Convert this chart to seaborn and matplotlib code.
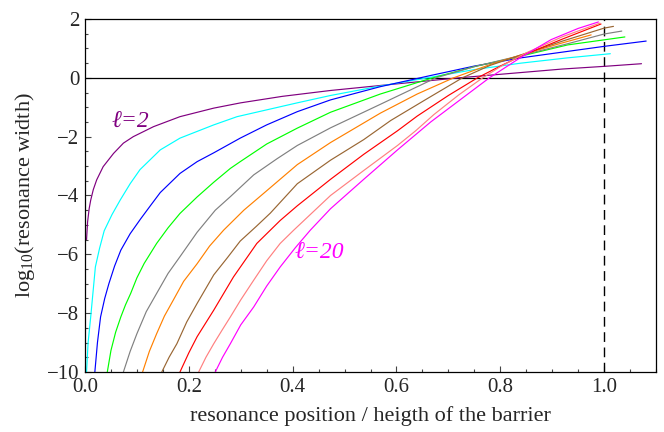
import pandas as pd
import matplotlib
matplotlib.use("Agg")
import matplotlib.pyplot as plt
from matplotlib.ticker import MultipleLocator
import seaborn as sns

# resonance position / barrier height (x) and log10(width) (y), one pair per l
x_l2 = [0.003, 0.005, 0.008, 0.011, 0.016, 0.0225, 0.035, 0.055, 0.074, 0.093, 0.132, 0.183,
        0.248, 0.30, 0.38, 0.473, 0.569, 0.65, 0.72, 0.84, 0.92, 1.0, 1.072]
y_l2 = [-5.5, -4.9, -4.45, -4.16, -3.8, -3.47, -3.02, -2.57, -2.22, -2.0, -1.66, -1.32,
        -1.03, -0.85, -0.63, -0.43, -0.26, -0.12, 0.0, 0.18, 0.3, 0.39, 0.48]

x_l4 = [0.003, 0.006, 0.011, 0.02, 0.028, 0.037, 0.052, 0.068, 0.087, 0.106, 0.145, 0.183,
        0.248, 0.293, 0.409, 0.473, 0.569, 0.666, 0.75, 0.84, 0.93, 1.012]
y_l4 = [-10.0, -9.0, -8.13, -6.43, -5.8, -5.2, -4.65, -4.15, -3.6, -3.12, -2.45, -2.05,
        -1.6, -1.32, -0.85, -0.6, -0.28, 0.02, 0.28, 0.5, 0.68, 0.82]

x_l6 = [0.019, 0.024, 0.03, 0.038, 0.046, 0.057, 0.069, 0.087, 0.107, 0.128, 0.145, 0.183,
        0.216, 0.248, 0.299, 0.35, 0.409, 0.473, 0.569, 0.666, 0.75, 0.84, 1.0, 1.081]
y_l6 = [-10.0, -9.0, -8.13, -7.5, -7.0, -6.4, -5.86, -5.3, -4.8, -4.3, -3.9, -3.25,
        -2.85, -2.55, -2.05, -1.6, -1.15, -0.75, -0.3, 0.08, 0.4, 0.68, 1.07, 1.25]

x_l8 = [0.043, 0.05, 0.059, 0.069, 0.078, 0.088, 0.1, 0.114, 0.138, 0.16, 0.183, 0.216,
        0.248, 0.28, 0.299, 0.35, 0.409, 0.473, 0.569, 0.666, 0.75, 0.84, 0.93, 1.04]
y_l8 = [-10.0, -9.27, -8.65, -8.13, -7.72, -7.33, -6.8, -6.31, -5.63, -5.1, -4.61, -4.05,
        -3.55, -3.08, -2.85, -2.25, -1.71, -1.17, -0.55, -0.02, 0.38, 0.74, 1.12, 1.39]

x_l10 = [0.074, 0.087, 0.1, 0.118, 0.138, 0.16, 0.183, 0.216, 0.251, 0.28, 0.325, 0.37,
         0.409, 0.473, 0.569, 0.676, 0.75, 0.84, 0.93, 1.0, 1.034]
y_l10 = [-10.0, -9.3, -8.7, -7.95, -7.33, -6.65, -6.08, -5.25, -4.5, -4.04, -3.3, -2.75,
         -2.3, -1.7, -0.9, 0.0, 0.38, 0.76, 1.16, 1.49, 1.59]

x_l12 = [0.111, 0.124, 0.138, 0.153, 0.17, 0.19, 0.216, 0.24, 0.267, 0.306, 0.344, 0.409,
         0.473, 0.569, 0.64, 0.71, 0.78, 0.84, 0.91, 0.975]
y_l12 = [-10.0, -9.3, -8.7, -8.1, -7.56, -6.92, -6.32, -5.72, -5.18, -4.5, -3.93, -2.95,
         -2.2, -1.2, -0.55, 0.0, 0.45, 0.78, 1.14, 1.46]

x_l14 = [0.148, 0.162, 0.177, 0.196, 0.216, 0.248, 0.275, 0.299, 0.33, 0.357, 0.409, 0.473,
         0.537, 0.589, 0.66, 0.727, 0.78, 0.84, 0.92, 1.0, 1.018]
y_l14 = [-10.0, -9.5, -9.04, -8.3, -7.67, -6.7, -6.1, -5.55, -5.05, -4.6, -3.6, -2.8,
         -2.1, -1.45, -0.7, 0.0, 0.42, 0.78, 1.25, 1.69, 1.75]

x_l16 = [0.183, 0.2, 0.216, 0.232, 0.248, 0.286, 0.331, 0.376, 0.409, 0.473, 0.537, 0.602,
         0.64, 0.7, 0.756, 0.8, 0.84, 0.92, 0.994]
y_l16 = [-10.0, -9.35, -8.8, -8.35, -7.9, -6.77, -5.63, -4.85, -4.35, -3.45, -2.6, -1.8,
         -1.3, -0.6, 0.0, 0.4, 0.74, 1.32, 1.83]

x_l18 = [0.219, 0.233, 0.248, 0.264, 0.28, 0.3, 0.325, 0.35, 0.376, 0.402, 0.473, 0.537,
         0.602, 0.637, 0.672, 0.72, 0.766, 0.801, 0.85, 0.92, 0.992]
y_l18 = [-10.0, -9.5, -9.04, -8.58, -8.13, -7.55, -6.88, -6.22, -5.63, -5.18, -4.0, -3.15,
         -2.3, -1.8, -1.25, -0.58, 0.0, 0.39, 0.85, 1.4, 1.86]

x_l20 = [0.251, 0.265, 0.28, 0.3, 0.325, 0.35, 0.376, 0.405, 0.434, 0.473, 0.537, 0.602,
         0.666, 0.73, 0.779, 0.84, 0.898, 0.95, 0.989]
y_l20 = [-10.0, -9.5, -9.04, -8.4, -7.79, -7.08, -6.43, -5.78, -5.18, -4.45, -3.45, -2.45,
         -1.5, -0.65, 0.0, 0.7, 1.3, 1.68, 1.9]

ells = [2, 4, 6, 8, 10, 12, 14, 16, 18, 20]
xs = [x_l2, x_l4, x_l6, x_l8, x_l10, x_l12, x_l14, x_l16, x_l18, x_l20]
ys = [y_l2, y_l4, y_l6, y_l8, y_l10, y_l12, y_l14, y_l16, y_l18, y_l20]
colors = ["#800080", "#00ffff", "#0000ff", "#00ff00", "#808080",
          "#ff8000", "#996633", "#ff0000", "#ff8080", "#ff00ff"]

df = pd.concat(
    [pd.DataFrame({"x": x, "y": y, "ell": l}) for l, x, y in zip(ells, xs, ys)],
    ignore_index=True,
)

sns.set_theme(style="ticks")
plt.rcParams["font.family"] = ["Liberation Serif", "DejaVu Serif"]
plt.rcParams["mathtext.fontset"] = "custom"
plt.rcParams["mathtext.rm"] = "Liberation Serif"
plt.rcParams["mathtext.it"] = "Liberation Serif:italic"

fig, ax = plt.subplots(figsize=(6.64, 4.32), dpi=100)
fig.subplots_adjust(left=0.128, right=0.988, top=0.956, bottom=0.139)

ax.axhline(0, color="black", lw=0.9, zorder=1)
ax.axvline(1.0, color="black", lw=1.0, dashes=(7, 4), zorder=1)

sns.lineplot(data=df, x="x", y="y", hue="ell", palette=colors, sort=False,
             estimator=None, legend=False, lw=0.85, ax=ax, zorder=2)

ax.set_xlim(0, 1.1)
ax.set_ylim(-10, 2)
ax.xaxis.set_major_locator(MultipleLocator(0.2))
ax.xaxis.set_minor_locator(MultipleLocator(0.05))
ax.yaxis.set_major_locator(MultipleLocator(2))
ax.yaxis.set_minor_locator(MultipleLocator(0.5))
ax.xaxis.set_major_formatter(lambda v, p: f"{v:.1f}")
ax.yaxis.set_major_formatter(lambda v, p: f"{v:.0f}".replace("-", "\u2212"))
ax.tick_params(which="both", direction="in", top=False, right=False,
               labelsize=15, width=0.8, color="#444444")
ax.tick_params(which="major", length=4.5, pad=4)
ax.tick_params(which="minor", length=2.5)
for s in ax.spines.values():
    s.set_linewidth(0.9)
    s.set_color("black")

ax.set_xlabel("resonance position / heigth of the barrier", fontsize=16, labelpad=7)
ax.set_ylabel("log$_{10}$(resonance width)", fontsize=16, labelpad=7)

ax.text(0.087, -1.5, "\u2113=2", color="#800080", fontsize=17,
        style="italic", ha="center", va="center")
ax.text(0.451, -5.97, "\u2113=20", color="#ff00ff", fontsize=17,
        style="italic", ha="center", va="center")

fig.savefig("out.png", dpi=100)
